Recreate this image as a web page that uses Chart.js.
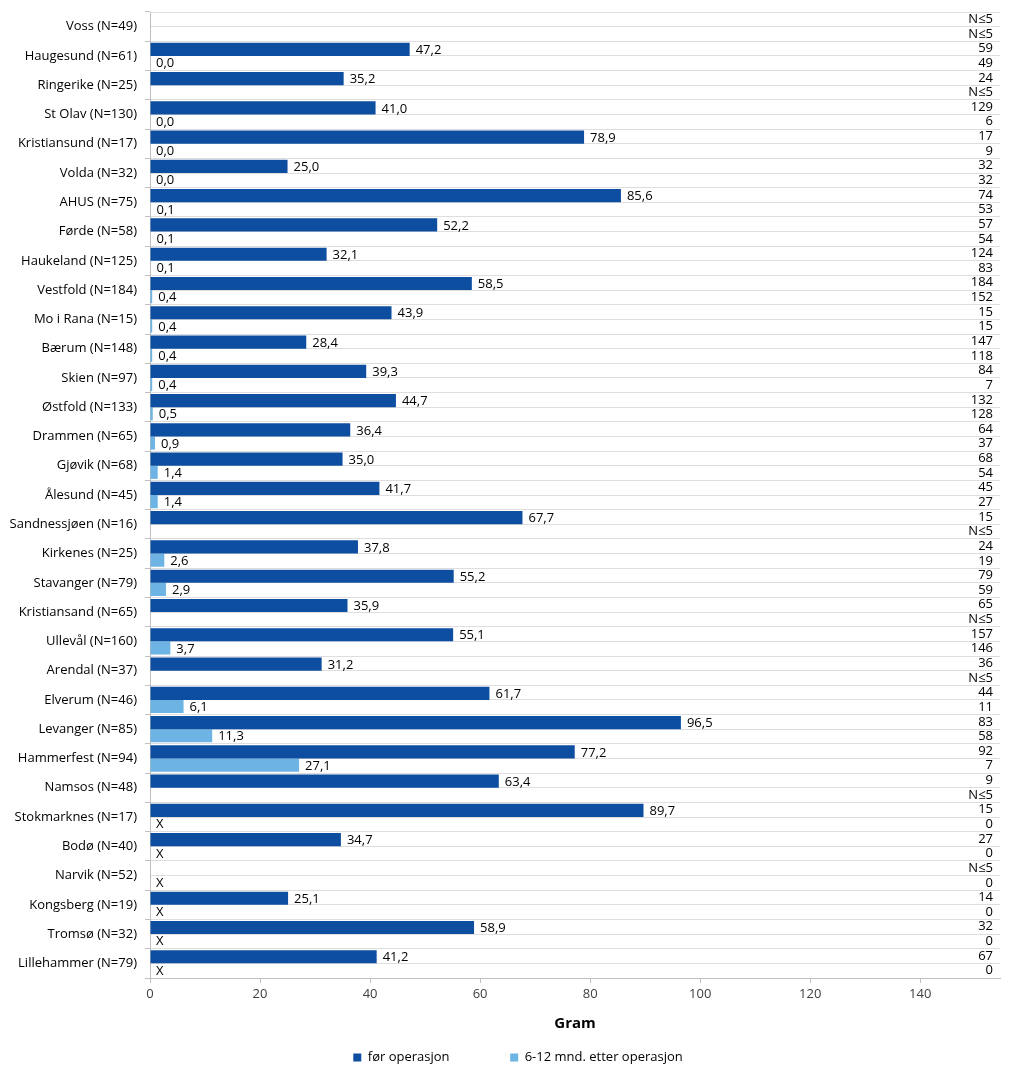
<!DOCTYPE html>
<html>
<head>
<meta charset="utf-8">
<script src="https://cdn.jsdelivr.net/npm/chart.js@4.4.0/dist/chart.umd.min.js"></script>
<style>
  html, body { margin: 0; padding: 0; background: #fff; }
  #wrap { width: 1024px; height: 1076px; }
</style>
</head>
<body>
<div id="wrap"><canvas id="myChart" width="1024" height="1076"></canvas></div>
<script>
const sykehus = [
    'Voss (N=49)', 'Haugesund (N=61)', 'Ringerike (N=25)', 'St Olav (N=130)',
    'Kristiansund (N=17)', 'Volda (N=32)', 'AHUS (N=75)', 'Førde (N=58)',
    'Haukeland (N=125)', 'Vestfold (N=184)', 'Mo i Rana (N=15)', 'Bærum (N=148)',
    'Skien (N=97)', 'Østfold (N=133)', 'Drammen (N=65)', 'Gjøvik (N=68)',
    'Ålesund (N=45)', 'Sandnessjøen (N=16)', 'Kirkenes (N=25)', 'Stavanger (N=79)',
    'Kristiansand (N=65)', 'Ullevål (N=160)', 'Arendal (N=37)', 'Elverum (N=46)',
    'Levanger (N=85)', 'Hammerfest (N=94)', 'Namsos (N=48)', 'Stokmarknes (N=17)',
    'Bodø (N=40)', 'Narvik (N=52)', 'Kongsberg (N=19)', 'Tromsø (N=32)',
    'Lillehammer (N=79)'
];

// gram før operasjon
const forOperasjon = [
    null, 47.2, 35.2, 41.0, 78.9, 25.0, 85.6, 52.2, 32.1, 58.5, 43.9, 28.4,
    39.3, 44.7, 36.4, 35.0, 41.7, 67.7, 37.8, 55.2, 35.9, 55.1, 31.2, 61.7,
    96.5, 77.2, 63.4, 89.7, 34.7, null, 25.1, 58.9, 41.2
];

// gram 6-12 mnd. etter operasjon
const etterOperasjon = [
    null, 0.0, null, 0.0, 0.0, 0.0, 0.1, 0.1, 0.1, 0.4, 0.4, 0.4,
    0.4, 0.5, 0.9, 1.4, 1.4, null, 2.6, 2.9, null, 3.7, null, 6.1,
    11.3, 27.1, null, null, null, null, null, null, null
];

// X = ikke registrert etter operasjon
const ikkeRegistrert = [
    false, false, false, false, false, false, false, false, false, false, false, false,
    false, false, false, false, false, false, false, false, false, false, false, false,
    false, false, false, true, true, true, true, true, true
];

const nFor = [
    'N≤5', '59', '24', '129', '17', '32', '74', '57', '124', '184', '15', '147',
    '84', '132', '64', '68', '45', '15', '24', '79', '65', '157', '36', '44',
    '83', '92', '9', '15', '27', 'N≤5', '14', '32', '67'
];

const nEtter = [
    'N≤5', '49', 'N≤5', '6', '9', '32', '53', '54', '83', '152', '15', '118',
    '7', '128', '37', '54', '27', 'N≤5', '19', '59', 'N≤5', '146', 'N≤5', '11',
    '58', '7', 'N≤5', '0', '0', '0', '0', '0', '0'
];

const xTicks = [0, 20, 40, 60, 80, 100, 120, 140];

const FONT = '"Open Sans", sans-serif';

function fmt(v) {
    return v.toFixed(1).replace('.', ',');
}

// one N label per bar row, used by the secondary axis on the right
const nRader = [];
sykehus.forEach((s, i) => { nRader.push(nFor[i]); nRader.push(nEtter[i]); });

const forEtiketter = forOperasjon.map(v => v === null ? '' : fmt(v));
const etterEtiketter = etterOperasjon.map((v, i) => v !== null ? fmt(v) : (ikkeRegistrert[i] ? 'X' : ''));

const verdiEtiketter = {
    id: 'verdiEtiketter',
    afterDatasetsDraw(chart) {
        const ctx = chart.ctx;
        const xs = chart.scales.x;
        ctx.save();
        ctx.font = '13px ' + FONT;
        ctx.fillStyle = '#000';
        ctx.textBaseline = 'middle';
        ctx.textAlign = 'left';
        chart.data.datasets.forEach((ds, di) => {
            const meta = chart.getDatasetMeta(di);
            meta.data.forEach((bar, i) => {
                const tekst = ds.etiketter[i];
                if (!tekst) return;
                const v = ds.data[i] === null ? 0 : ds.data[i];
                ctx.fillText(tekst, xs.getPixelForValue(v) + 6, bar.y + 1);
            });
        });
        ctx.restore();
    }
};

function ingenKantPadding(scale) {
    scale.paddingTop = 0;
    scale.paddingBottom = 0;
}

const data = {
    labels: sykehus,
    datasets: [{
        label: 'før operasjon',
        data: forOperasjon,
        etiketter: forEtiketter,
        backgroundColor: '#0E4EA1',
        categoryPercentage: 0.9,
        barPercentage: 1.0
    }, {
        label: '6-12 mnd. etter operasjon',
        data: etterOperasjon,
        etiketter: etterEtiketter,
        backgroundColor: '#6DB3E3',
        categoryPercentage: 0.9,
        barPercentage: 1.0
    }]
};

const config = {
    type: 'bar',
    data: data,
    plugins: [verdiEtiketter],
    options: {
        indexAxis: 'y',
        responsive: false,
        animation: false,
        // negative right padding shifts the centred legend to where the original has it
        layout: { padding: { left: 0, right: -12, top: 12, bottom: 2 } },
        scales: {
            y: {
                position: 'left',
                afterFit(scale) { scale.width = 150; ingenKantPadding(scale); },
                grid: { drawOnChartArea: false, drawTicks: true, tickLength: 5, color: '#BFBFBF' },
                border: { color: '#BFBFBF' },
                ticks: { color: '#000', font: { family: FONT, size: 13 }, padding: 8, autoSkip: false }
            },
            y2: {
                type: 'category',
                position: 'right',
                labels: nRader,
                offset: true,
                afterFit(scale) { scale.width = 36; ingenKantPadding(scale); },
                grid: { offset: true, drawTicks: false, color: '#DEDEDE' },
                border: { display: false },
                ticks: {
                    mirror: true, crossAlign: 'near', padding: -7, autoSkip: false,
                    color: '#000', font: { family: FONT, size: 13 }
                }
            },
            x: {
                min: 0,
                max: 154.5,
                afterBuildTicks(scale) { scale.ticks = xTicks.map(v => ({ value: v })); },
                afterFit(scale) { scale.height = 63; },
                grid: { drawOnChartArea: false, drawTicks: true, tickLength: 5, color: '#BFBFBF' },
                border: { color: '#BFBFBF' },
                ticks: { color: '#404040', font: { family: FONT, size: 13 }, padding: 3 },
                title: {
                    display: true, text: 'Gram', color: '#000',
                    font: { family: FONT, size: 15, weight: 'bold' },
                    padding: { top: 0, bottom: 8 }
                }
            }
        },
        plugins: {
            legend: {
                position: 'bottom',
                labels: {
                    boxWidth: 8, boxHeight: 8, padding: 10, color: '#000',
                    font: { family: FONT, size: 13 },
                    generateLabels(chart) {
                        const items = Chart.defaults.plugins.legend.labels.generateLabels(chart);
                        items[0].text = items[0].text + '               ';
                        items.forEach(it => { it.lineWidth = 0; });
                        return items;
                    }
                }
            },
            tooltip: { enabled: false }
        }
    }
};

const myChart = new Chart(document.getElementById('myChart'), config);
</script>
</body>
</html>
